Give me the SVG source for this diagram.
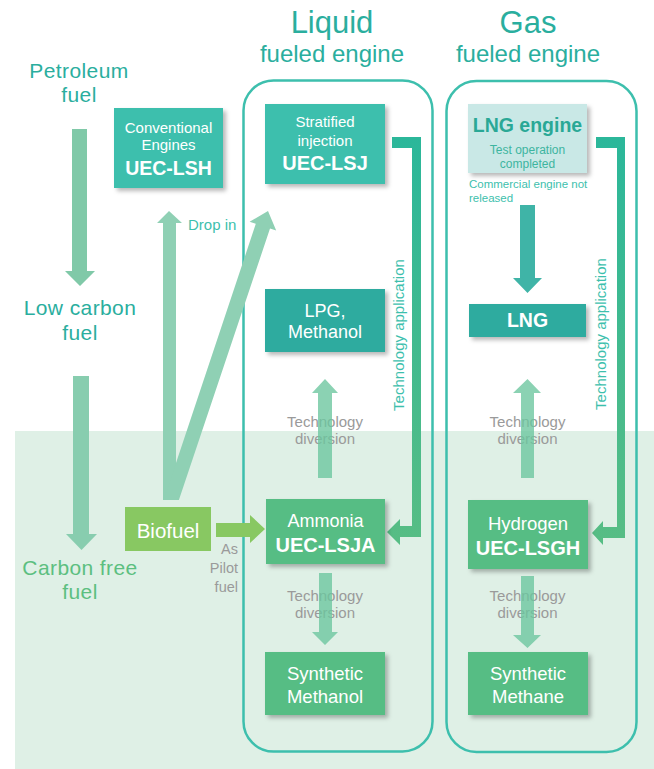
<svg xmlns="http://www.w3.org/2000/svg" width="654" height="769" viewBox="0 0 654 769">
<style>
text{font-family:"Liberation Sans",Arial,sans-serif;}
.title1{font-size:31px;fill:#2aae9e;text-anchor:middle;}
.title2{font-size:24px;fill:#2aae9e;text-anchor:middle;}
.side{font-size:21px;fill:#2aae9e;text-anchor:middle;letter-spacing:0.4px;}
.side2{font-size:21px;fill:#5cbf80;text-anchor:middle;letter-spacing:0.4px;}
.wt{fill:#ffffff;text-anchor:middle;}
.b{font-weight:bold;}
.gray{font-size:15px;fill:#9a9a9a;text-anchor:middle;}
.ta{font-size:15px;fill:#3dbfad;text-anchor:middle;}
.teal{fill:#3dbfad;}
.tealdark{fill:#2eab9f;}
.green{fill:#57bd84;}
.cont{fill:none;stroke:#3dbfad;stroke-width:2.5;}
.arr{fill:#80c9a8;}
.div{fill:#6ac59e;opacity:0.78;}
</style>
<defs>
<filter id="sh" x="-10%" y="-10%" width="130%" height="140%">
<feDropShadow dx="3" dy="3" stdDeviation="2.2" flood-color="#000" flood-opacity="0.28"/>
</filter>
<linearGradient id="gapp" gradientUnits="userSpaceOnUse" x1="0" y1="137" x2="0" y2="545">
<stop offset="0" stop-color="#2bb79a"/>
<stop offset="1" stop-color="#57bd84"/>
</linearGradient>
</defs>

<rect x="15" y="431" width="639" height="338" fill="#dff0e6"/>

<!-- titles -->
<text class="title1" x="332" y="33">Liquid</text>
<text class="title2" x="332" y="62">fueled engine</text>
<text class="title1" x="528" y="33">Gas</text>
<text class="title2" x="528" y="62">fueled engine</text>

<!-- side labels -->
<text class="side" x="79" y="78">Petroleum</text>
<text class="side" x="79" y="102">fuel</text>
<text class="side" x="80" y="315">Low carbon</text>
<text class="side" x="80" y="340">fuel</text>
<text class="side2" x="80" y="575">Carbon free</text>
<text class="side2" x="80" y="599">fuel</text>

<!-- containers -->
<rect class="cont" x="243.5" y="80.5" width="189" height="671" rx="30"/>
<rect class="cont" x="446.5" y="81" width="190" height="671" rx="30"/>

<!-- labels under arrows -->
<text class="gray" x="325" y="427">Technology</text>
<text class="gray" x="325" y="444">diversion</text>
<text class="gray" x="527.5" y="427">Technology</text>
<text class="gray" x="527.5" y="444">diversion</text>
<text class="gray" x="325" y="601">Technology</text>
<text class="gray" x="325" y="618">diversion</text>
<text class="gray" x="527.5" y="601">Technology</text>
<text class="gray" x="527.5" y="618">diversion</text>

<g id="connectors">
<polygon class="arr" points="72,129 87,129 87,271 95,271 80,286 65,271 72,271"/>
<polygon fill="#88cdaf" points="73,376 89,376 89,534 97,534 81.5,550 66,534 73,534"/>
<polygon fill="#8fd0b4" points="163,500 176,500 176,223 182,223 169,211 157,223 163,223"/>
<polygon fill="#8fd0b4" points="163,500 178.9,500 270,228.6 276.2,230.6 268,211 249.6,221.7 255.8,223.8 167,490"/>
<polygon fill="#88c862" points="216,523 250,523 250,515 265,529 250,543 250,537 216,537"/>
<polygon class="div" points="318,478 332,478 332,393 338,393 325,379 312,393 318,393"/>
<polygon class="div" points="521,478 534,478 534,393 541,393 527.5,379 513,393 521,393"/>
<polygon class="div" points="319,573 332,573 332,632 338,632 325,645 312,632 319,632"/>
<polygon class="div" points="521,576 534,576 534,635 541,635 527.5,648 513,635 521,635"/>
<polygon fill="#3fb4a7" points="520,205 535,205 535,278 542,278 527.5,293 513,278 520,278"/>
<polygon fill="url(#gapp)" points="392,137 421,137 421,537 400,537 400,545 387,532 400,519 400,526 412,526 412,148 392,148"/>
<polygon fill="url(#gapp)" points="596,137 625,137 625,538 603,538 603,545 592,533 603,521 603,527 617,527 617,148 596,148"/>
</g>

<text class="ta" transform="translate(403.5,335) rotate(-90)">Technology application</text>
<text class="ta" transform="translate(605.5,334) rotate(-90)">Technology application</text>
<text x="188" y="230" style="font-size:15px;fill:#3dbfad;">Drop in</text>
<text x="238" y="554" style="font-size:14.5px;fill:#9a9a9a;text-anchor:end;">As</text>
<text x="238" y="573" style="font-size:14.5px;fill:#9a9a9a;text-anchor:end;">Pilot</text>
<text x="238" y="592" style="font-size:14.5px;fill:#9a9a9a;text-anchor:end;">fuel</text>
<text x="469" y="188" style="font-size:11.5px;fill:#3dbfad;">Commercial engine not</text>
<text x="469" y="202" style="font-size:11.5px;fill:#3dbfad;">released</text>

<g id="conventional">
<rect class="teal" x="114" y="108" width="109" height="80" filter="url(#sh)"/>
<text class="wt" x="168.5" y="133" style="font-size:15px;">Conventional</text>
<text class="wt" x="168.5" y="150" style="font-size:15px;">Engines</text>
<text class="wt b" x="168.5" y="175" style="font-size:19.5px;">UEC-LSH</text>
</g>
<g id="stratified">
<rect class="teal" x="265" y="104" width="120" height="80" filter="url(#sh)"/>
<text class="wt" x="325" y="127" style="font-size:15px;">Stratified</text>
<text class="wt" x="325" y="146" style="font-size:15px;">injection</text>
<text class="wt b" x="325" y="170" style="font-size:20px;">UEC-LSJ</text>
</g>
<g id="lngengine">
<rect fill="#c9e8e6" x="468" y="104" width="119" height="69" filter="url(#sh)"/>
<text class="b" x="527.5" y="132" style="font-size:19.5px;fill:#2aa896;text-anchor:middle;">LNG engine</text>
<text x="527.5" y="154" style="font-size:12px;fill:#3db5a0;text-anchor:middle;">Test operation</text>
<text x="527.5" y="168" style="font-size:12px;fill:#3db5a0;text-anchor:middle;">completed</text>
</g>
<g id="lpg">
<rect class="tealdark" x="265" y="289" width="120" height="63" filter="url(#sh)"/>
<text class="wt" x="325" y="317" style="font-size:18px;">LPG,</text>
<text class="wt" x="325" y="338" style="font-size:18px;">Methanol</text>
</g>
<g id="lng">
<rect class="tealdark" x="469" y="304" width="117" height="33" filter="url(#sh)"/>
<text class="wt b" x="527.5" y="327" style="font-size:19.5px;">LNG</text>
</g>
<g id="biofuel">
<rect fill="#88c862" x="125" y="507" width="86" height="44"/>
<text class="wt" x="168" y="538" style="font-size:20.5px;">Biofuel</text>
</g>
<g id="ammonia">
<rect class="green" x="266" y="499" width="119" height="65" filter="url(#sh)"/>
<text class="wt" x="325.5" y="527" style="font-size:18px;">Ammonia</text>
<text class="wt b" x="325.5" y="552" style="font-size:20px;">UEC-LSJA</text>
</g>
<g id="hydrogen">
<rect class="green" x="468" y="500" width="120" height="69" filter="url(#sh)"/>
<text class="wt" x="528" y="530" style="font-size:18.5px;">Hydrogen</text>
<text class="wt b" x="528" y="555" style="font-size:20px;">UEC-LSGH</text>
</g>
<g id="synmethanol">
<rect class="green" x="265" y="652" width="120" height="63" filter="url(#sh)"/>
<text class="wt" x="325" y="680" style="font-size:18.5px;">Synthetic</text>
<text class="wt" x="325" y="703" style="font-size:18.5px;">Methanol</text>
</g>
<g id="synmethane">
<rect class="green" x="468" y="652" width="120" height="63" filter="url(#sh)"/>
<text class="wt" x="528" y="680" style="font-size:18.5px;">Synthetic</text>
<text class="wt" x="528" y="703" style="font-size:18.5px;">Methane</text>
</g>
</svg>
